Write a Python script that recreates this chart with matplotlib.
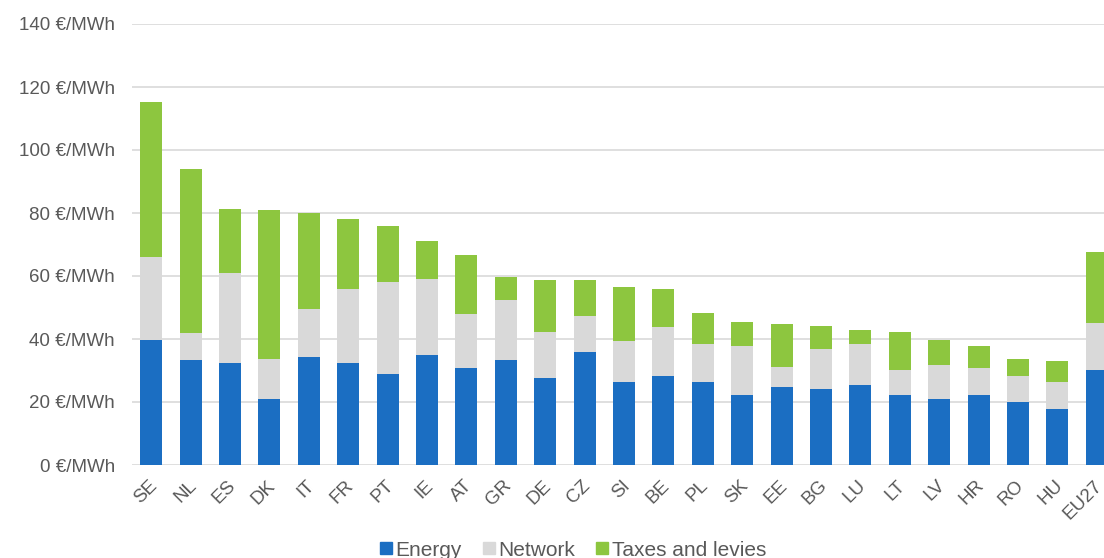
import matplotlib.pyplot as plt
import numpy as np
from matplotlib.lines import Line2D

## DATOS ##
countries = ['SE', 'NL', 'ES', 'DK', 'IT', 'FR', 'PT', 'IE', 'AT', 'GR', 'DE', 'CZ', 'SI',
             'BE', 'PL', 'SK', 'EE', 'BG', 'LU', 'LT', 'LV', 'HR', 'RO', 'HU', 'EU27']
energy = [39.6, 33.3, 32.3, 20.9, 34.3, 32.3, 28.9, 34.8, 30.7, 33.3, 27.7, 35.9, 26.2,
          28.4, 26.2, 22.3, 24.9, 24.2, 25.4, 22.3, 20.8, 22.3, 19.9, 17.9, 30.3]
network_top = [66.1, 41.8, 61.0, 33.5, 49.6, 55.8, 58.1, 59.1, 47.8, 52.4, 42.1, 47.3, 39.3,
               43.8, 38.4, 37.8, 31.2, 36.8, 38.3, 30.2, 31.7, 30.7, 28.3, 26.2, 45.2]
total = [115.3, 93.9, 81.4, 81.0, 79.9, 78.0, 75.9, 71.0, 66.6, 59.7, 58.6, 58.6, 56.4,
         55.8, 48.1, 45.3, 44.8, 44.2, 42.8, 42.2, 39.8, 37.8, 33.6, 33.1, 67.5]
yticks = [0, 20, 40, 60, 80, 100, 120, 140]
## DATOS ##

energy = np.array(energy)
network = np.array(network_top) - energy
taxes = np.array(total) - np.array(network_top)

c_energy = '#1B6EC2'
c_network = '#D9D9D9'
c_taxes = '#8DC63F'
txt = '#595959'

plt.rcParams['font.family'] = ['Liberation Sans', 'DejaVu Sans']

fig = plt.figure(figsize=(11.04, 5.58), dpi=100)
# el eje sigue a la derecha del borde (la imagen original esta recortada)
ax = fig.add_axes([131.5/1104, 93/558, 985/1104, 441/558])

x = np.arange(len(countries)) + 0.5
w = 0.56
ax.bar(x, energy, w, color=c_energy, zorder=3)
ax.bar(x, network, w, bottom=energy, color=c_network, zorder=3)
ax.bar(x, taxes, w, bottom=energy + network, color=c_taxes, zorder=3)

ax.set_xlim(0, len(countries))
ax.set_ylim(0, 140)
ax.set_yticks(yticks)
ax.set_yticklabels([str(v) + ' \u20ac/MWh' for v in yticks])
ax.set_xticks(x + 0.08)
ax.set_xticklabels(countries, rotation=45, ha='right', va='center', rotation_mode='anchor')
ax.grid(axis='y', color='#D9D9D9', linewidth=1.2, zorder=0)
for s in ['top', 'right', 'left', 'bottom']:
    ax.spines[s].set_visible(False)
ax.tick_params(axis='y', length=0, pad=12, labelsize=13.5, labelcolor=txt)
ax.tick_params(axis='x', length=0, pad=13, labelsize=13.5, labelcolor=txt)

handles = [Line2D([], [], marker='s', linestyle='', markersize=8, color=c) for c in [c_energy, c_network, c_taxes]]
fig.legend(handles, ['Energy', 'Network', 'Taxes and levies'], loc='center',
           bbox_to_anchor=(572/1104, 8/558), ncol=3, frameon=False, fontsize=15,
           handletextpad=0.05, columnspacing=0.9, labelcolor=txt, handlelength=0.8)

plt.savefig('out.png', dpi=100)
